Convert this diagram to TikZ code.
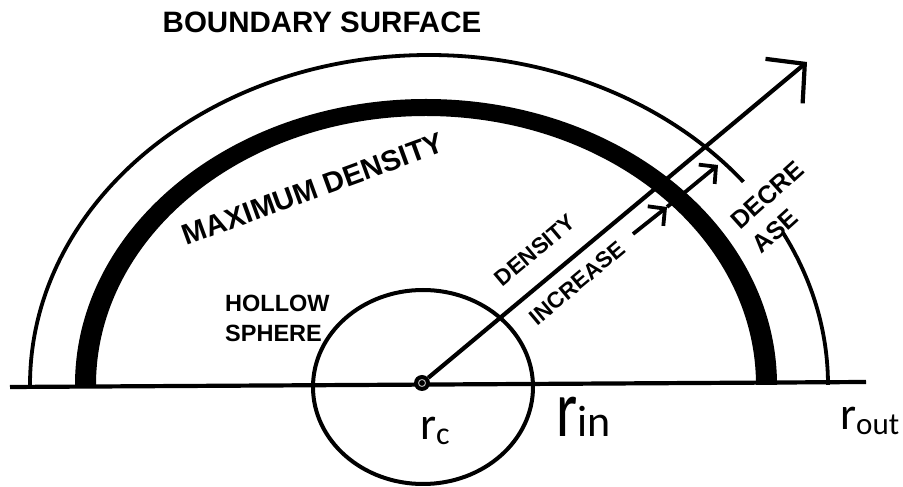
\documentclass[tikz,border=0pt]{standalone}
\usepackage{fontspec}
\setmainfont{Liberation Sans}
\newfontfamily\calfont{Carlito}
\usetikzlibrary{arrows.meta}
\begin{document}
\begin{tikzpicture}[x=1pt,y=1pt,
  thinline/.style={line width=3.8pt},
  axisline/.style={line width=4.2pt},
  lbl/.style={inner sep=0pt},
  bigarrow/.style={line width=4.2pt,-{Straight Barb[length=27pt,width=58pt]}},
  smallarrow/.style={line width=3.8pt,-{Straight Barb[length=12pt,width=25pt]}}]
\useasboundingbox (0,0) rectangle (903,487);
% axis
\coordinate (axL) at (10,100);
\coordinate (axR) at (866,105);
\draw[axisline] (axL) -- (axR);
% boundary surface (outer arc with a gap)
\draw[thinline] (30,102) arc[start angle=180,end angle=38,x radius=399pt,y radius=330pt];
\draw[thinline] (782.9,254.4) arc[start angle=27.5,end angle=0,x radius=399pt,y radius=330pt];
% maximum density band
\fill (75,102) arc[start angle=180,end angle=0,x radius=351pt,y radius=286pt]
  -- (756,102) arc[start angle=0,end angle=180,x radius=330pt,y radius=269pt] -- cycle;
% hollow sphere
\draw[line width=4pt] (423,100) ellipse[x radius=110pt,y radius=97pt];
% centre dot
\node[circle,fill=black,inner sep=0pt,minimum size=16pt] (rc) at (422,104) {};
\draw[gray!60,line width=1pt] (rc.center) circle[radius=3.5pt];
% main arrow
\coordinate (tip) at (807,425);
\draw[bigarrow] (rc) -- (tip);
% small arrows
\coordinate (s0) at (633,253);
\coordinate (s1) at (667,280);
\coordinate (s2) at (718,322);
\draw[smallarrow] (s0) -- (s1);
\draw[smallarrow] (s1) -- (s2);
% labels
\node[lbl,anchor=base,font=\fontsize{29.5}{34}\selectfont\bfseries] (bs) at (322,454) {BOUNDARY SURFACE};
\node[lbl,rotate=20,font=\fontsize{29}{32}\selectfont\bfseries] (md) at (313,298) {MAXIMUM DENSITY};
\node[lbl,rotate=40,font=\fontsize{22.5}{26}\selectfont\bfseries] (dens) at (535,237) {DENSITY};
\node[lbl,rotate=40,font=\fontsize{22.5}{26}\selectfont\bfseries] (inc) at (577,204) {INCREASE};
\node[lbl,rotate=42,align=left,font=\fontsize{25}{32}\selectfont\bfseries] (dec) at (778,280) {DECRE\\ASE};
\node[lbl,anchor=north west,align=left,font=\fontsize{23.5}{30}\selectfont\bfseries] (hs) at (225,192) {HOLLOW\\SPHERE};
\node[lbl,anchor=base west,font=\calfont] (lrc) at (420,47)
  {\fontsize{46}{46}\selectfont r\raisebox{-5pt}{\fontsize{32}{32}\selectfont c}};
\node[lbl,anchor=base west,font=\calfont] (lrin) at (556,50)
  {\scalebox{0.75}[1]{\fontsize{81}{81}\selectfont r}{\fontsize{44}{44}\selectfont in}};
\node[lbl,anchor=base west,font=\calfont] (lrout) at (840,57)
  {\fontsize{46}{46}\selectfont r\raisebox{-5pt}{\fontsize{31}{31}\selectfont out}};
\end{tikzpicture}
\end{document}
